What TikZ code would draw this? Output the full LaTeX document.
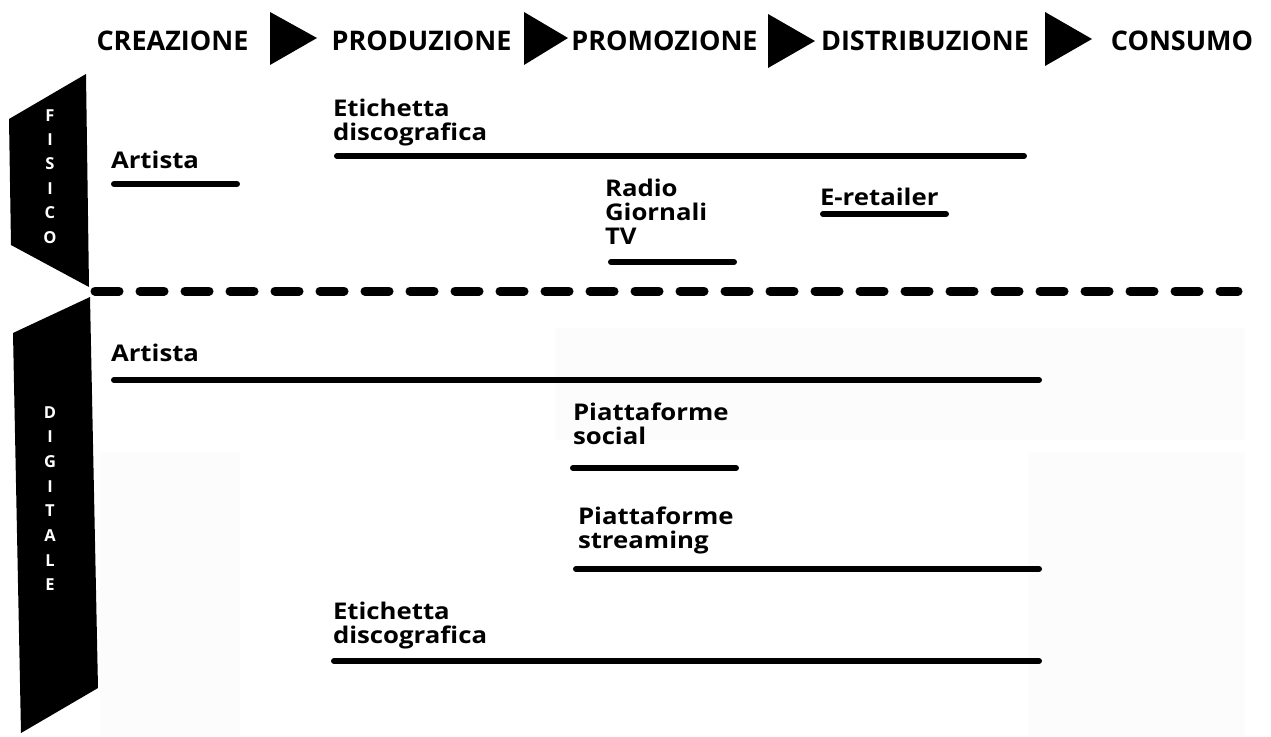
\documentclass[tikz,border=0pt]{standalone}
\usepackage{fontspec}
\setmainfont{Open Sans}
\newfontfamily\bodyfont{Open Sans}[FakeStretch=1.12]
\newcommand\mylines[1]{\begin{tabular}[t]{@{}l@{}}#1\end{tabular}}
\newcommand\mystack[1]{\begin{tabular}[t]{@{}c@{}}#1\end{tabular}}
\begin{document}
\begin{tikzpicture}[x=1pt,y=-1pt,
  every node/.style={inner sep=0pt,outer sep=0pt},
  head/.style={anchor=base,font=\fontsize{27}{30}\selectfont\bfseries},
  lbl/.style={anchor=base west,font=\bodyfont\fontsize{23}{24}\selectfont\bfseries},
  side/.style={anchor=base,text=white,font=\fontsize{16.5}{24.4}\selectfont\bfseries},
  sideb/.style={anchor=base,text=white,font=\fontsize{16.5}{24.7}\selectfont\bfseries},
  uline/.style={line width=6pt,line cap=round},
  faint/.style={fill=black!1}]
\useasboundingbox (0,0) rectangle (1271,736);
% faint background blocks
\fill[faint] (555,328) rectangle (1245,440);
\fill[faint] (100,452) rectangle (240,736);
\fill[faint] (1028,452) rectangle (1245,736);
% header
\node[head] (h1) at (172.5,50) {CREAZIONE};
\node[head] (h2) at (421.5,50) {PRODUZIONE};
\node[head] (h3) at (664.5,50) {PROMOZIONE};
\node[head] (h4) at (925,50) {DISTRIBUZIONE};
\node[head] (h5) at (1182,50) {CONSUMO};
\fill (270,12) -- (270,65) -- (317,38) -- cycle;
\fill (524,12) -- (524,65) -- (568,38) -- cycle;
\fill (768,14) -- (768,68) -- (815,41) -- cycle;
\fill (1045,12) -- (1045,66) -- (1092,39) -- cycle;
% side banners
\fill (86,74) -- (9,119) -- (11,245) -- (89,287) -- cycle;
\fill (90,297) -- (13,333) -- (21,733) -- (98,688) -- cycle;
\node[side] (fis) at (50,121) {\mystack{F\\I\\S\\I\\C\\O}};
\node[sideb] (dig) at (50,418) {\mystack{D\\I\\G\\I\\T\\A\\L\\E}};
% divider
\coordinate (d1) at (95,291);
\coordinate (d2) at (1238,291);
\draw[line width=9pt,line cap=round,dash pattern=on 24pt off 21pt] (d1) -- (d2);
% fisico
\node[lbl] (fa) at (111,168) {Artista};
\coordinate (fa1) at (114,184); \coordinate (fa2) at (237,184);
\draw[uline] (fa1) -- (fa2);
\node[lbl] (fe) at (333,116) {\mylines{Etichetta\\discografica}};
\coordinate (fe1) at (337,156); \coordinate (fe2) at (1024,156);
\draw[uline] (fe1) -- (fe2);
\node[lbl] (fr) at (605,196) {\mylines{Radio\\Giornali\\TV}};
\coordinate (fr1) at (611,262); \coordinate (fr2) at (734,262);
\draw[uline] (fr1) -- (fr2);
\node[lbl] (fer) at (820,205) {E-retailer};
\coordinate (fer1) at (823,214); \coordinate (fer2) at (946,214);
\draw[uline] (fer1) -- (fer2);
% digitale
\node[lbl] (da) at (111,361) {Artista};
\coordinate (da1) at (114,380); \coordinate (da2) at (1039,380);
\draw[uline] (da1) -- (da2);
\node[lbl] (ds) at (573,420) {\mylines{Piattaforme\\social}};
\coordinate (ds1) at (573,468); \coordinate (ds2) at (736,468);
\draw[uline] (ds1) -- (ds2);
\node[lbl] (dst) at (578,524) {\mylines{Piattaforme\\streaming}};
\coordinate (dst1) at (576,569); \coordinate (dst2) at (1039,569);
\draw[uline] (dst1) -- (dst2);
\node[lbl] (de) at (333,619) {\mylines{Etichetta\\discografica}};
\coordinate (de1) at (334,661); \coordinate (de2) at (1039,661);
\draw[uline] (de1) -- (de2);
\end{tikzpicture}
\end{document}
